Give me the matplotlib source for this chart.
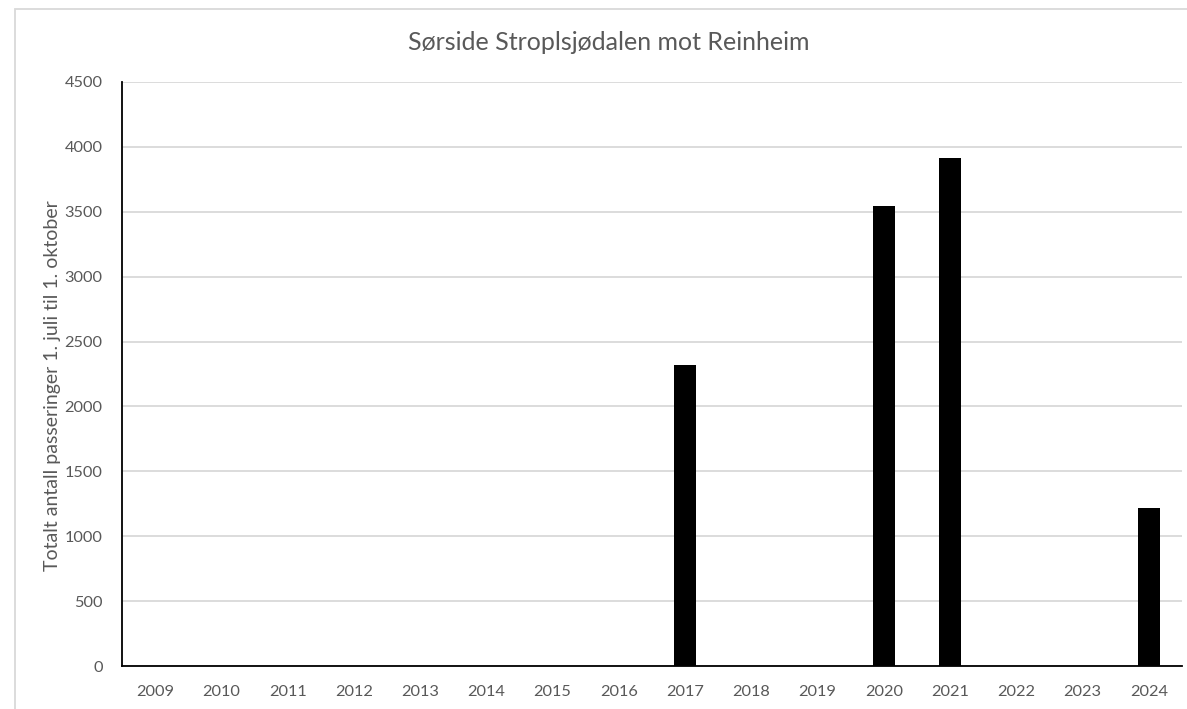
import matplotlib
matplotlib.use("Agg")
import matplotlib.pyplot as plt
from matplotlib.patches import Rectangle

years = ["2009", "2010", "2011", "2012", "2013", "2014", "2015", "2016",
         "2017", "2018", "2019", "2020", "2021", "2022", "2023", "2024"]
values = [0, 0, 0, 0, 0, 0, 0, 0, 2320, 0, 0, 3542, 3918, 0, 0, 1219]
yticks = [0, 500, 1000, 1500, 2000, 2500, 3000, 3500, 4000, 4500]

title = "Sørside Stroplsjødalen mot Reinheim"
ylabel = "Totalt antall passeringer 1. juli til 1. oktober"

plt.rcParams['font.family'] = ['Lato', 'DejaVu Sans']
W, H = 1187, 709
fig = plt.figure(figsize=(W / 100, H / 100), dpi=100)
fig.patch.set_facecolor("white")

# outer chart frame
fig.patches.append(Rectangle((15 / W, -0.05), 1.2, (H - 9) / H + 0.05,
                             transform=fig.transFigure, fill=False,
                             edgecolor="#D9D9D9", linewidth=1.3))

ax = fig.add_axes([122 / W, (H - 666) / H, (1182 - 122) / W, (666 - 82) / H])
x = list(range(len(years)))
ax.bar(x, values, width=0.33, color="black", zorder=3)
ax.set_xlim(-0.5, len(years) - 0.5)
ax.set_ylim(0, 4500)
ax.set_yticks(yticks)
ax.set_xticks(x)
ax.set_xticklabels(years)
ax.yaxis.grid(True, color="#D9D9D9", linewidth=1.3, zorder=0)
ax.set_axisbelow(True)
for s in ["top", "right"]:
    ax.spines[s].set_visible(False)
for s in ["left", "bottom"]:
    ax.spines[s].set_color("black")
    ax.spines[s].set_linewidth(1.3)
    ax.spines[s].set_zorder(4)
ax.tick_params(axis="both", length=0, labelsize=11.8, labelcolor="#595959")
ax.tick_params(axis="x", pad=14)
ax.tick_params(axis="y", pad=14)
fig.text(53 / W, 1 - 386 / H, ylabel, rotation=90, ha="center", va="center",
         fontsize=14, color="#595959")
fig.text(609 / W, 1 - 43 / H, title, ha="center", va="center",
         fontsize=18, color="#595959")

fig.savefig("out.png", dpi=100)
